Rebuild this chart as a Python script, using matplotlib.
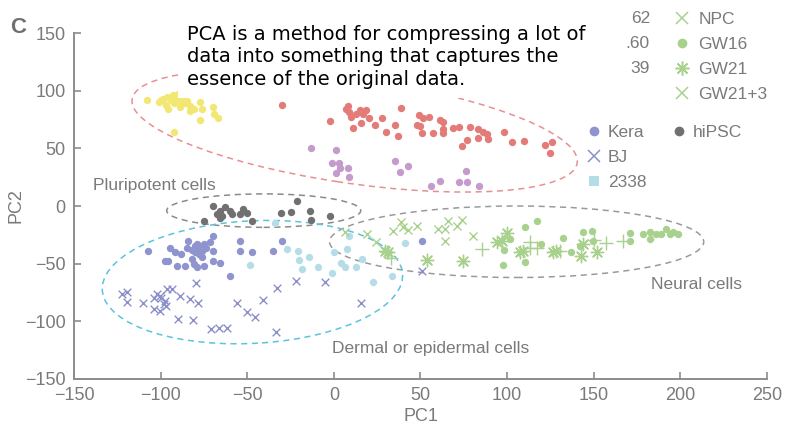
import matplotlib
matplotlib.use("Agg")
import matplotlib.pyplot as plt
from matplotlib.patches import Ellipse
from matplotlib.lines import Line2D

plt.rcParams['font.family'] = ['Liberation Sans', 'DejaVu Sans']

# PCA scores, one pair of lists per sample group
yellow_x = [-108, -101, -98.5, -96.5, -93, -91, -89, -86, -83, -81, -77, -76, -70, -69, -67,
            -77, -92, -96, -83, -94, -92, -90, -87, -85, -97, -100, -89]
yellow_y = [92, 90, 93, 94.5, 96, 93, 90, 89, 87, 84, 90, 84, 86, 80, 76,
            75, 64, 84, 82, 92, 89, 97, 93, 91, 88, 92, 86]

red_x = [-30, -2, 8, 7, 9, 10, 13, 15, 17, 18.5, 20, 15.6, 11, 24, 27.5, 35, 39, 30, 37,
         49, 51.5, 55, 48, 50, 51, 57, 61, 63, 63, 63, 69, 72, 78.5, 83, 86, 88.5, 89, 83,
         76.6, 73.7, 98, 103, 110, 122, 126, 125]
red_y = [88, 74, 87, 84, 81.5, 77, 80, 83, 80, 83, 76, 72, 67.6, 70, 76, 70, 85, 64, 60.6,
         78.5, 76, 77, 70, 69, 63.5, 63.5, 75, 73, 67, 63.5, 67.6, 68.4, 68.4, 67, 64, 62.6,
         57.7, 59, 57.4, 52, 64, 55.4, 56.3, 53, 55.4, 46]

mauve_x = [-13, 1, -1.3, 3, 3.5, 8, 1, 9, 35, 38, 43, 61, 56, 72, 76.6, 76, 84]
mauve_y = [50, 49, 37, 37.4, 33, 33, 29, 25, 39.4, 29.3, 35, 22, 17.7, 20.6, 20.6, 30, 17.7]

hipsc_x = [-75, -69.6, -67.7, -65.8, -63, -64.8, -59, -54, -52.7, -50.4, -47.5, -30.8, -25,
           -21, -14, -13, -2.3, -66, -60]
hipsc_y = [-13, 0.3, -7, -4, -1, -8.4, -7, -7, -3, -6, -13, -6, -5, 4.6, -4, -12, -9, -10, -4]

kera_x = [-107.5, -97.5, -95.6, -94.6, -91.7, -90.8, -88, -86, -85, -84, -82, -81, -80, -79,
          -78, -77, -76, -75, -76, -75, -79, -71.5, -69.6, -69.6, -69.6, -66, -60, -54, -54,
          -47.5, -35.4, -30, 50.6, -80, -82, -78, -74]
kera_y = [-39, -47.5, -47.5, -36, -40, -52, -42, -52, -36, -30, -46, -50, -34.5, -33, -37,
          -34.5, -39, -33, -44.6, -52, -53, -31.6, -26, -39, -47.5, -49, -60.6, -30, -39,
          -40, -39.4, -30.7, -30.5, -40, -38, -42, -36]

bj_x = [-122.5, -119.6, -119.6, -110.4, -104, -104, -100.4, -100.4, -97.5, -96.5, -93.6, -89,
        -89.8, -83, -79.6, -78.3, -81.5, -71, -66.4, -61.6, -55.8, -50.4, -45.6, -41, -32.7,
        -33.5, -22, -5.2, 15.6, 50.6, -98, -102, -97, -100]
bj_y = [-76.5, -75, -83, -84, -79.4, -89, -78, -91, -82.3, -71.6, -72.2, -78, -97.7, -80.3,
        -67, -84, -99, -106.4, -105.5, -105.5, -84, -92, -96, -81.5, -70.7, -109.3, -65,
        -65.8, -84, -56, -85, -76, -87, -80]

c2338_x = [-34, -27.3, -20.6, -20, -18.6, -14.5, -9, -1.3, 0.1, 4.4, 6.3, 7.3, 8.5, 12.7, 16,
           22.7, 33.3, 41, -48.5]
c2338_y = [-15, -37, -39, -46.7, -54.8, -44.6, -52.8, -58.3, -40, -49.6, -53.3, -37.4, -26,
           -53.3, -46, -66.3, -60.8, -32.2, -51.5]

npc_x = [6.3, 18.9, 24.6, 33.9, 39, 40, 43, 47.7, 60, 64, 66, 70.8, 73.7, 64, 80.4]
npc_y = [-22.3, -24.3, -31.6, -22, -14.2, -18.5, -20.6, -17.7, -20, -20, -12.8, -17, -12,
         -30, -25.8]

gw16_x = [110.5, 117, 101.4, 98.4, 97.7, 110.5, 119.8, 132.5, 136.6, 143.9, 149, 149.6, 142,
          170.8, 170.8, 178.3, 182.3, 182.3, 186.2, 189, 192, 194, 195.8, 198.7]
gw16_y = [-18, -12.8, -29, -38.4, -51, -48.7, -33, -27.7, -40.3, -22.9, -21.5, -30, -34.5,
          -23, -30, -24.3, -22.9, -28.7, -24.3, -24.3, -20, -24.3, -22.9, -24.3]

gw21_x = [29.4, 31, 53.8, 74.6, 93.9, 99.7, 96.8, 107.3, 109, 126.5, 128.5, 143.9, 142.5, 152]
gw21_y = [-38.8, -40, -46.7, -48, -31.6, -23, -30, -40.3, -38.8, -40.3, -38.8, -33, -43.2, -40]

gw21p3_x = [85.6, 113, 113, 117, 150, 157, 167, 130.4, 33, 30.4]
gw21p3_y = [-37.4, -30.8, -36, -36, -29.4, -32.3, -30, -38.8, -45, -40]

# group outlines: centre, width, height, angle, colour
outlines = [
    ((12, 65), 263, 90, -13, '#e88f92'),
    ((-40.5, -4), 112, 29, 0, '#8a8a8a'),
    ((105.5, -31), 216, 62, 0, '#9a9a9a'),
    ((-47, -66), 174, 106, 6, '#5bc3e0'),
]

YELLOW = '#f3e774'
RED = '#e37c79'
MAUVE = '#c59acd'
GREY = '#707070'
KERA = '#8f94cf'
BJ = '#8a8fca'
C2338 = '#b5dde8'
GREEN = '#a9d18e'
TXT = '#7a7a7a'

fig = plt.figure(figsize=(7.85, 4.29), dpi=100)
ax = fig.add_axes([0.0943, 0.1166, 0.8827, 0.8064])

for (c, w, h, a, col) in outlines:
    ax.add_patch(Ellipse(c, w, h, angle=a, fill=False, edgecolor=col,
                         linestyle=(0, (4, 3)), linewidth=1.1))

dot = 28
ax.scatter(yellow_x, yellow_y, s=dot, color=YELLOW, linewidths=0)
ax.scatter(red_x, red_y, s=dot, color=RED, linewidths=0)
ax.scatter(mauve_x, mauve_y, s=dot, color=MAUVE, linewidths=0)
ax.scatter(hipsc_x, hipsc_y, s=dot, color=GREY, linewidths=0)
ax.scatter(kera_x, kera_y, s=dot, color=KERA, linewidths=0)
ax.scatter(c2338_x, c2338_y, s=dot, color=C2338, linewidths=0)
ax.scatter(bj_x, bj_y, s=30, marker='x', color=BJ, linewidths=1.0)
ax.scatter(npc_x, npc_y, s=34, marker='x', color=GREEN, linewidths=1.0)
ax.scatter(gw16_x, gw16_y, s=dot, color=GREEN, linewidths=0)
ax.scatter(gw21_x, gw21_y, s=80, marker=(8, 2, 0), color=GREEN, linewidths=1.0)
ax.scatter(gw21p3_x, gw21p3_y, s=110, marker='+', color=GREEN, linewidths=1.0)

ax.text(-139, 18, 'Pluripotent cells', fontsize=12.5, color=TXT, va='center')
ax.text(183, -68, 'Neural cells', fontsize=12.5, color=TXT, va='center')
ax.text(-1, -124, 'Dermal or epidermal cells', fontsize=12.5, color=TXT, va='center')

ax.set_xlim(-150, 250)
ax.set_ylim(-150, 150)
ax.set_xticks(range(-150, 251, 50))
ax.set_yticks(range(-150, 151, 50))
for s in ['top', 'right']:
    ax.spines[s].set_visible(False)
for s in ['left', 'bottom']:
    ax.spines[s].set_color('#8c8c8c')
    ax.spines[s].set_linewidth(1.4)
ax.tick_params(direction='in', length=5, width=1.2, color='#8c8c8c',
               labelsize=13, labelcolor=TXT, pad=6)
ax.set_xlabel('PC1', fontsize=13, color=TXT, labelpad=3)
ax.set_ylabel('PC2', fontsize=13, color=TXT, labelpad=0)

fig.text(0.013, 0.937, 'C', fontsize=16, fontweight='bold', color='#6f6f6f', va='center')

# legends
h_top = [Line2D([], [], marker='x', color=GREEN, linestyle='', markersize=9, markeredgewidth=1.1),
         Line2D([], [], marker='o', color=GREEN, linestyle='', markersize=7, markeredgewidth=0),
         Line2D([], [], marker=(8, 2, 0), color=GREEN, linestyle='', markersize=10, markeredgewidth=1.1),
         Line2D([], [], marker='x', color=GREEN, linestyle='', markersize=9, markeredgewidth=1.1)]
leg1 = fig.legend(h_top, ['NPC', 'GW16', 'GW21', 'GW21+3'], loc='upper left',
                  bbox_to_anchor=(0.842, 1.0), frameon=False, fontsize=12.5,
                  handlelength=1.0, handletextpad=0.45, labelspacing=0.56,
                  labelcolor=TXT, borderpad=0.2)

blank = Line2D([], [], linestyle='', marker='')
h_low = [Line2D([], [], marker='o', color=KERA, linestyle='', markersize=7, markeredgewidth=0),
         Line2D([], [], marker='x', color=BJ, linestyle='', markersize=9, markeredgewidth=1.1),
         Line2D([], [], marker='s', color=C2338, linestyle='', markersize=7, markeredgewidth=0),
         Line2D([], [], marker='o', color=GREY, linestyle='', markersize=7, markeredgewidth=0),
         blank, blank]
leg2 = fig.legend(h_low, ['Kera', 'BJ', '2338', 'hiPSC', '', ''], loc='upper left',
                  ncol=2, bbox_to_anchor=(0.730, 0.737), frameon=False, fontsize=12.5,
                  handlelength=1.0, handletextpad=0.3, labelspacing=0.56,
                  columnspacing=1.4, labelcolor=TXT, borderpad=0.2)

for label, yy in zip(['62', '.60', '39'], [0.957, 0.899, 0.841]):
    fig.text(0.828, yy, label, fontsize=12.5, color=TXT, ha='right', va='center')

fig.text(0.238, 0.942,
         'PCA is a method for compressing a lot of\n'
         'data into something that captures the\n'
         'essence of the original data.',
         family='DejaVu Sans', fontsize=14, color='black', va='top', ha='left',
         linespacing=1.24,
         bbox=dict(facecolor='white', edgecolor='none', boxstyle='square,pad=0.45'))

fig.savefig('out.png', dpi=100)
